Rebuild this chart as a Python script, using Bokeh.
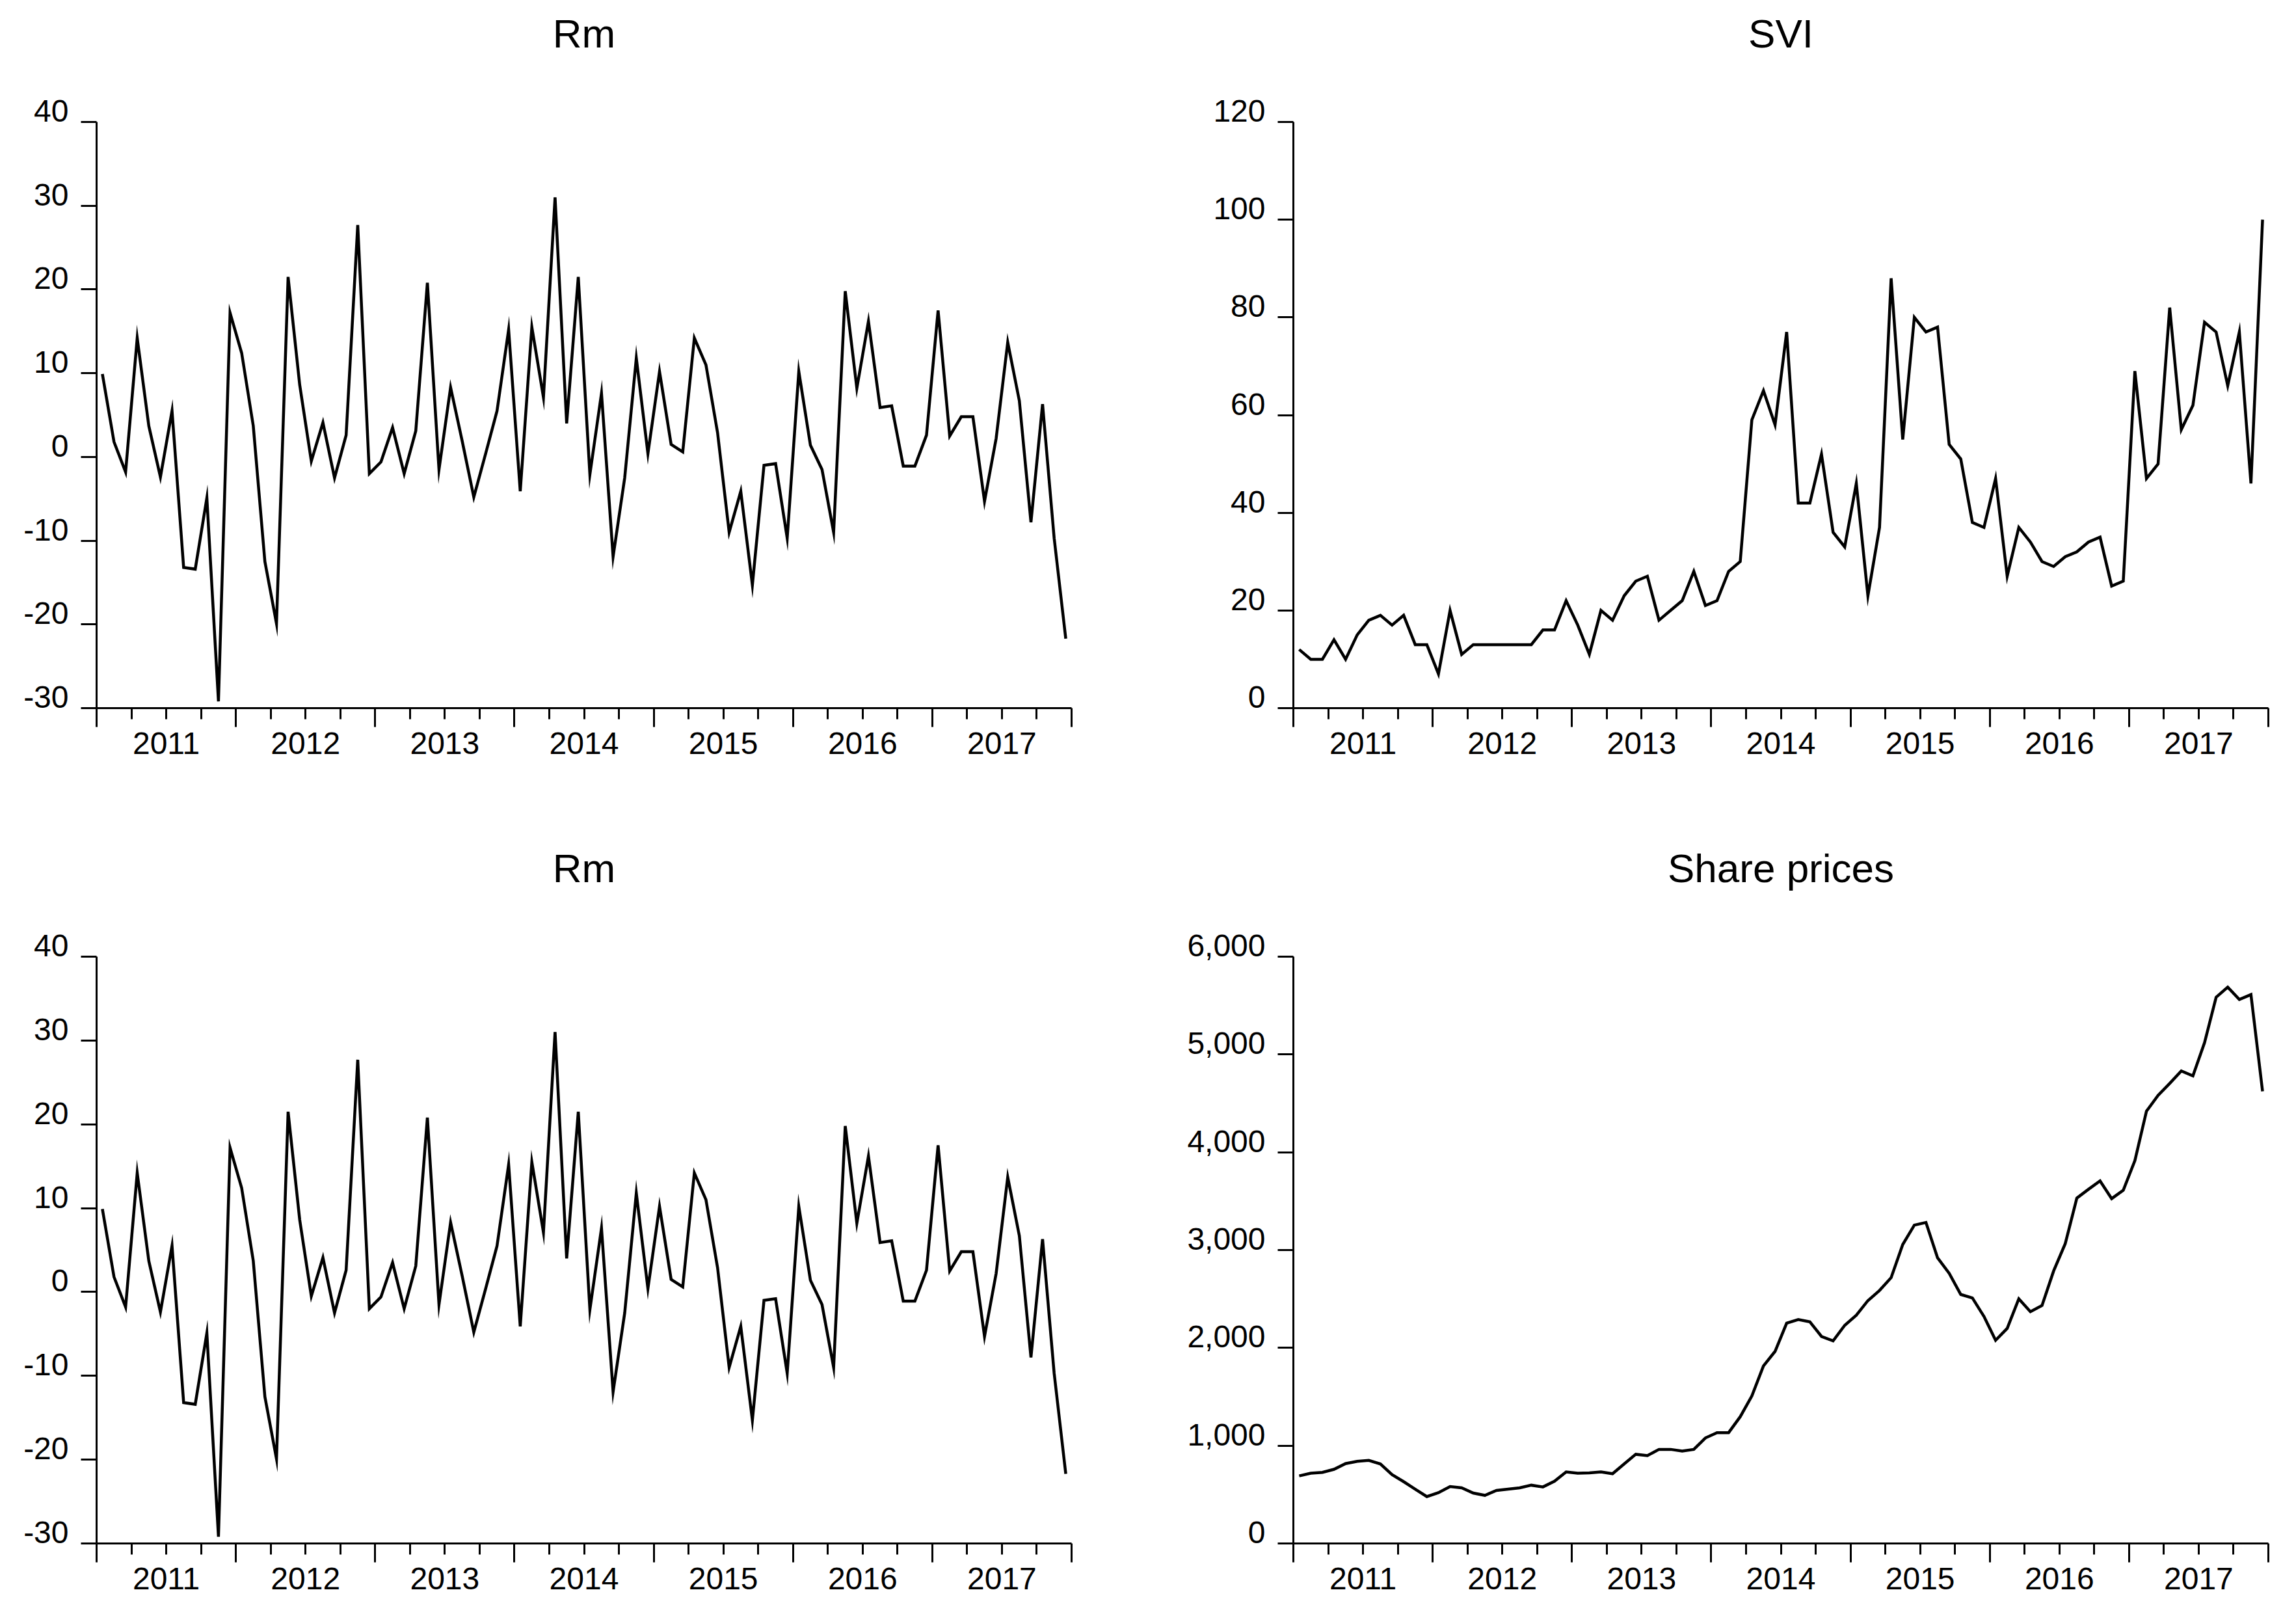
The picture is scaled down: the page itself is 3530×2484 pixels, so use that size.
from bokeh.plotting import figure
from bokeh.models import Range1d, LinearAxis, FixedTicker
from bokeh.layouts import gridplot
from bokeh.embed import file_html
from bokeh.resources import INLINE

# Monthly observations, Jan 2011 .. Dec 2017 (84 months)
years = [2011, 2012, 2013, 2014, 2015, 2016, 2017]
year_labels = [str(y) for y in years]

rm = [9.9, 1.8, -1.8, 14.2, 3.7, -2.4, 5.5, -13.2, -13.4, -4.9, -29.2, 17.2,
      12.4, 3.7, -12.5, -19.9, 21.5, 8.6, -0.5, 4.1, -2.5, 2.6, 27.7, -2.0,
      -0.6, 3.5, -2.0, 3.1, 20.8, -1.5, 8.3, 1.9, -4.8, 0.3, 5.5, 15.2,
      -4.1, 15.5, 7.1, 31.0, 4.0, 21.5, -2.1, 7.6, -11.9, -2.5, 11.8, 0.4,
      10.2, 1.5, 0.6, 14.2, 11.0, 2.9, -9.0, -4.1, -15.3, -1.0, -0.8, -9.7,
      10.2, 1.4, -1.5, -9.0, 19.8, 8.2, 16.2, 5.9, 6.1, -1.1, -1.1, 2.6,
      17.5, 2.5, 4.8, 4.8, -5.3, 2.2, 13.7, 6.7, -7.8, 6.3, -9.7, -21.7]

svi = [12, 10, 10, 14, 10, 15, 18, 19, 17, 19, 13, 13,
       7, 20, 11, 13, 13, 13, 13, 13, 13, 16, 16, 22,
       17, 11, 20, 18, 23, 26, 27, 18, 20, 22, 28, 21,
       22, 28, 30, 59, 65, 58, 77, 42, 42, 52, 36, 33,
       46, 23, 37, 88, 55, 80, 77, 78, 54, 51, 38, 37,
       47, 27, 37, 34, 30, 29, 31, 32, 34, 35, 25, 26,
       69, 47, 50, 82, 57, 62, 79, 77, 66, 77, 46, 100]

share_prices = [691, 718, 727, 758, 817, 840, 849, 813, 704, 632, 555, 479,
                519, 582, 569, 515, 492, 542, 555, 569, 596, 578, 637, 731,
                718, 722, 731, 713, 813, 912, 898, 962, 962, 944, 962, 1079,
                1133, 1133, 1296, 1508, 1815, 1964, 2253, 2289, 2266, 2117, 2072, 2230,
                2334, 2483, 2587, 2718, 3056, 3255, 3282, 2921, 2763, 2546, 2510, 2321,
                2077, 2199, 2501, 2370, 2433, 2786, 3065, 3531, 3621, 3707, 3526, 3612,
                3914, 4420, 4582, 4704, 4831, 4781, 5120, 5585, 5688, 5562, 5612, 4623]

rm_ticks = [-30, -20, -10, 0, 10, 20, 30, 40]
rm_tick_labels = ["-30", "-20", "-10", "0", "10", "20", "30", "40"]
svi_ticks = [0, 20, 40, 60, 80, 100, 120]
svi_tick_labels = ["0", "20", "40", "60", "80", "100", "120"]
sp_ticks = [0, 1000, 2000, 3000, 4000, 5000, 6000]
sp_tick_labels = ["0", "1,000", "2,000", "3,000", "4,000", "5,000", "6,000"]

n_months = len(rm)
xs = [i + 0.5 for i in range(n_months)]

FONT = "Liberation Sans"
TICK_FS = "48px"
HEAD = 18          # invisible frame head-room (px) above the top tick
LABEL_LIFT = 17    # tick labels sit above their tick
TITLE_GAP = 84     # gap between heading and plot area


def panel(title, values, yticks, ylabels, width, height, bl, br, axis_top, bb, axis_h):
    ymin, ymax = yticks[0], yticks[-1]
    unit = (ymax - ymin) / axis_h  # data units per pixel
    p = figure(width=width, height=height, output_backend="svg", title=None,
               toolbar_location=None, x_axis_type=None, y_axis_type=None,
               x_range=Range1d(0, n_months),
               y_range=Range1d(ymin, ymax + HEAD * unit),
               min_border_left=bl, min_border_right=br,
               min_border_top=axis_top - HEAD, min_border_bottom=bb)
    p.outline_line_color = None
    p.background_fill_color = "white"
    p.border_fill_color = "white"

    # panel heading, drawn as the label of an invisible top axis
    ta = LinearAxis(ticker=FixedTicker(ticks=[]))
    ta.axis_line_color = None
    ta.major_tick_line_color = None
    ta.minor_tick_line_color = None
    ta.major_tick_in = 0
    ta.major_tick_out = 0
    ta.minor_tick_in = 0
    ta.minor_tick_out = 0
    ta.major_label_text_font_size = "0px"
    ta.major_label_standoff = 0
    ta.axis_label = title
    ta.axis_label_text_font = FONT
    ta.axis_label_text_font_size = "62px"
    ta.axis_label_text_font_style = "normal"
    ta.axis_label_text_color = "black"
    ta.axis_label_standoff = TITLE_GAP
    p.add_layout(ta, "above")

    # y axis: line + ticks
    ya = LinearAxis(ticker=FixedTicker(ticks=yticks), bounds=(ymin, ymax))
    ya.major_label_overrides = {t: "" for t in yticks}
    ya.major_label_text_font_size = "0px"
    ya.major_label_standoff = 0
    ya.major_tick_in = 0
    ya.major_tick_out = 24
    ya.minor_tick_in = 0
    ya.minor_tick_out = 0
    ya.axis_line_width = 3
    ya.major_tick_line_width = 3
    ya.axis_line_color = "black"
    ya.major_tick_line_color = "black"
    p.add_layout(ya, "left")

    # y tick labels, text bottom resting on the tick
    lab_pos = [t + LABEL_LIFT * unit for t in yticks]
    yl = LinearAxis(ticker=FixedTicker(ticks=lab_pos))
    yl.major_label_overrides = {t: l for t, l in zip(lab_pos, ylabels)}
    yl.axis_line_color = None
    yl.major_tick_line_color = None
    yl.minor_tick_line_color = None
    yl.major_tick_out = 0
    yl.major_tick_in = 0
    yl.major_label_text_font = FONT
    yl.major_label_text_font_size = TICK_FS
    yl.major_label_text_color = "black"
    yl.major_label_standoff = 19
    p.add_layout(yl, "left")

    # x axis: ticks at year boundaries (long) and quarters (short)
    yb = [12 * k for k in range(len(years) + 1)]
    qb = [3 * k for k in range(4 * len(years) + 1) if (3 * k) % 12 != 0]
    xa = LinearAxis(ticker=FixedTicker(ticks=yb, minor_ticks=qb))
    xa.major_tick_in = 0
    xa.major_tick_out = 29
    xa.minor_tick_in = 0
    xa.minor_tick_out = 17
    xa.axis_line_width = 3
    xa.major_tick_line_width = 3
    xa.minor_tick_line_width = 3
    xa.axis_line_color = "black"
    xa.major_tick_line_color = "black"
    xa.minor_tick_line_color = "black"
    xa.major_label_overrides = {t: "" for t in yb}
    xa.major_label_text_font_size = "0px"
    xa.major_label_standoff = 0
    p.add_layout(xa, "below")

    # year labels centred in each year
    mids = [12 * k + 6 for k in range(len(years))]
    xl = LinearAxis(ticker=FixedTicker(ticks=mids))
    xl.major_label_overrides = {m: l for m, l in zip(mids, year_labels)}
    xl.axis_line_color = None
    xl.major_tick_line_color = None
    xl.minor_tick_line_color = None
    xl.major_tick_out = 0
    xl.major_tick_in = 0
    xl.major_label_text_font = FONT
    xl.major_label_text_font_size = TICK_FS
    xl.major_label_text_color = "black"
    xl.major_label_standoff = 8
    p.add_layout(xl, "below")

    p.line(xs, values, line_width=4.5, color="black", line_join="miter")
    return p


p1 = panel("Rm", rm, rm_ticks, rm_tick_labels, 1800, 1240, 148, 153, 187, 152, 901)
p2 = panel("SVI", svi, svi_ticks, svi_tick_labels, 1714, 1240, 188, 27, 187, 152, 901)
p3 = panel("Rm", rm, rm_ticks, rm_tick_labels, 1800, 1228, 148, 153, 230, 96, 902)
p4 = panel("Share prices", share_prices, sp_ticks, sp_tick_labels, 1714, 1228, 188, 27, 230, 96, 902)

grid = gridplot([[p1, p2], [p3, p4]], toolbar_location=None)
open("out.html", "w").write(file_html(grid, INLINE))
